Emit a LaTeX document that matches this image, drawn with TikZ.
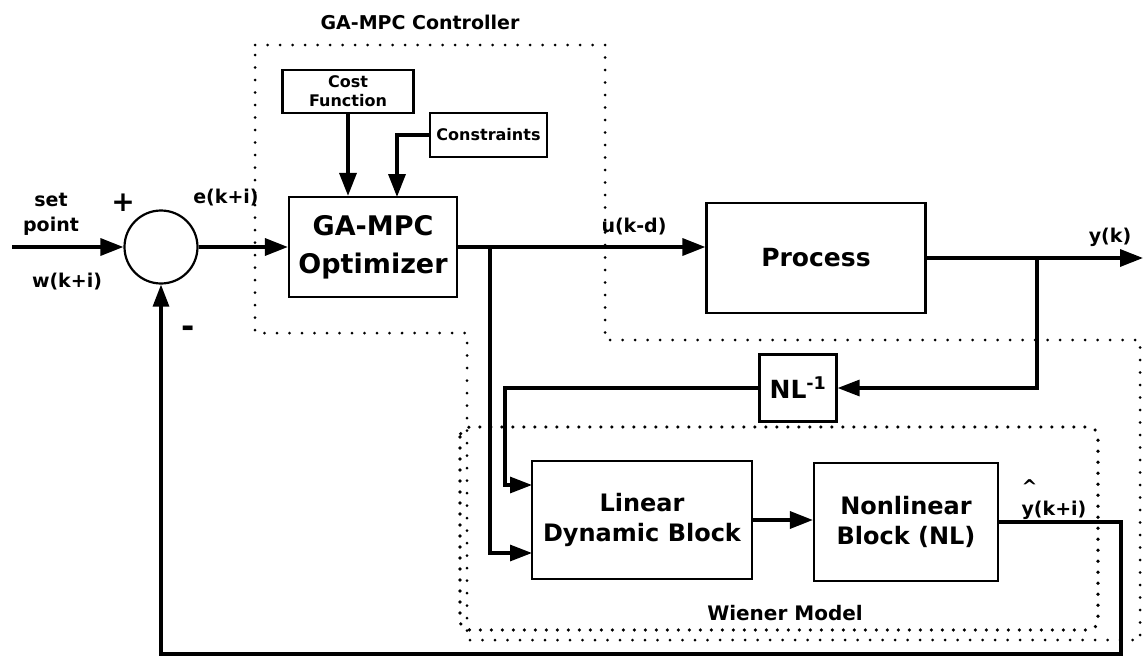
\documentclass[tikz,border=0pt]{standalone}
\usepackage{fontspec}
\setmainfont{DejaVu Sans}
\usetikzlibrary{arrows.meta}
\newcommand\fsz[2]{\fontsize{#1}{#2}\selectfont}

\begin{document}
\begin{tikzpicture}[x=1pt,y=-1pt,
  box/.style={draw, line width=2.2pt, inner sep=0pt, align=center},
  lbl/.style={inner sep=0pt, align=center},
  sig/.style={line width=3.4pt, -{Triangle[length=23pt 0 0,width=17pt 0 0]}},
  sigthin/.style={line width=3.1pt, -{Triangle[length=22pt 0 0,width=16pt 0 0]}},
  ctrldots/.style={line width=3pt, line cap=round, dash pattern=on 0pt off 12.5pt},
  wmdots/.style={line width=3.6pt, line cap=round, dash pattern=on 0pt off 11pt, rounded corners=10pt}]

\useasboundingbox (0,0) rectangle (1143,664);

% controller region and the Wiener model inside it
\draw[ctrldots] (255,45) -- (605,45) -- (605,340) -- (1140,340) -- (1140,640)
  -- (467,640) -- (467,333) -- (255,333) -- cycle;
\draw[wmdots] (460,427) rectangle (1098,630);

% blocks
\node[draw, circle, line width=2.2pt, minimum size=73pt, inner sep=0pt] (sum) at (161,247) {};
\node[box, minimum width=168pt, minimum height=100pt, font=\bfseries\fsz{27}{38}] (opt) at (373,247) {GA-MPC\\Optimizer};
\node[box, minimum width=131pt, minimum height=43pt, font=\bfseries\fsz{16}{19}] (cost) at (348,91.5) {Cost\\Function};
\node[box, minimum width=117pt, minimum height=44pt, font=\bfseries\fsz{16}{19}] (cons) at (488.5,135) {Constraints};
\node[box, minimum width=219pt, minimum height=110pt, font=\bfseries\fsz{25}{30}] (proc) at (816,258) {Process};
\node[box, minimum width=77pt, minimum height=67pt, font=\bfseries\fsz{25}{30}] (nlinv) at (798,388) {NL\textsuperscript{-1}};
\node[box, minimum width=220pt, minimum height=118pt, font=\bfseries\fsz{24}{30}] (lin) at (642,520) {Linear\\Dynamic Block};
\node[box, minimum width=184pt, minimum height=118pt, font=\bfseries\fsz{24}{30}] (nl) at (906,522) {Nonlinear\\Block (NL)};

% connection points
\coordinate (win) at (12,247);
\coordinate (optin) at (397,197);
\coordinate (b1) at (490,247);
\coordinate (b2) at (1037,258);
\coordinate (yout) at (1143,258);
\coordinate (jog) at (505,485);
\coordinate (linhi) at (532,485);
\coordinate (linlo) at (532,553);
\coordinate (fbcorner) at (1121,654);

% signal paths
\draw[sig] (win) -- (sum.west);
\draw[sig] (sum.east) -- (opt.west);
\draw[sig] (cost.south) -- (cost.south |- opt.north);
\draw[sig] (cons.west) -| (optin);
\draw[sig] (opt.east) -- (opt.east -| proc.west);
\draw[sig] (proc.east) -- (yout);
\draw[sigthin] (b2) |- (nlinv.east);
\draw[sigthin] (nlinv.west) -| (jog) -- (linhi);
\draw[sigthin] (b1) |- (linlo);
\draw[sig] (lin.east) -- (lin.east -| nl.west);
\draw[sigthin] (nl.east) -| (fbcorner) -| (sum.south);

% labels
\node[lbl, font=\bfseries\fsz{19}{24}] (ctl) at (420,22) {GA-MPC Controller};
\node[lbl, font=\bfseries\fsz{19}{25}] (sp) at (51,214) {set\\point};
\node[lbl, font=\bfseries\fsz{19}{24}] (w) at (67,282) {w(k+i)};
\node[lbl, font=\bfseries\fsz{28}{30}] (plus) at (123,203) {+};
\node[lbl, font=\bfseries\fsz{32}{32}] (minus) at (188,332) {-};
\node[lbl, font=\bfseries\fsz{19}{24}] (e) at (226,198) {e(k+i)};
\node[lbl, font=\bfseries\fsz{19}{24}] (u) at (634,227) {u(k-d)};
\node[lbl, font=\bfseries\fsz{19}{24}] (y) at (1110,237) {y(k)};
\node[lbl, font=\bfseries\fsz{19}{22}, align=left] (yhat) at (1054,500) {\^{}\\y(k+i)};
\node[lbl, font=\bfseries\fsz{20}{24}] (wm) at (785,613) {Wiener Model};

\end{tikzpicture}
\end{document}
